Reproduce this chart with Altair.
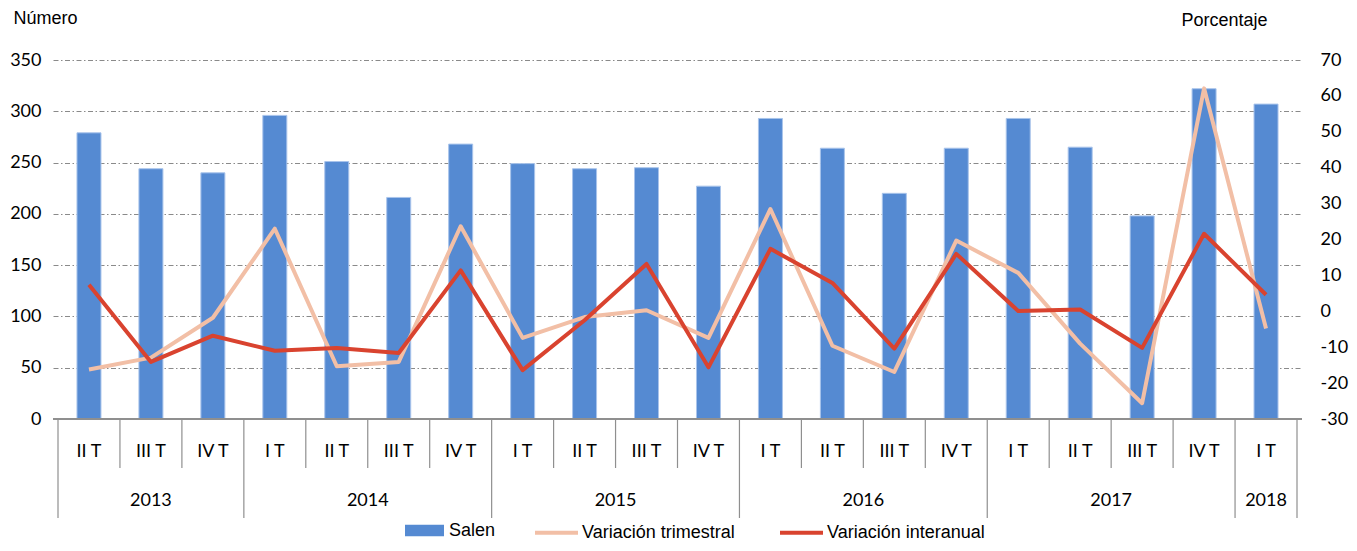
import altair as alt
import pandas as pd

# ---- data ----
quarters = ["II T", "III T", "IV T",
            "I T", "II T", "III T", "IV T",
            "I T", "II T", "III T", "IV T",
            "I T", "II T", "III T", "IV T",
            "I T", "II T", "III T", "IV T",
            "I T"]
years = ["2013"] * 3 + ["2014"] * 4 + ["2015"] * 4 + ["2016"] * 4 + ["2017"] * 4 + ["2018"]
salen = [279, 244, 240, 296, 251, 216, 268, 249, 244, 245, 227,
         293, 264, 220, 264, 293, 265, 198, 322, 307]
var_trim = [-16.2, -12.9, -1.8, 23.0, -15.3, -14.1, 23.7, -7.4, -1.6, 0.3, -7.4,
            28.5, -9.6, -16.9, 19.7, 10.7, -9.0, -25.6, 62.1, -4.8]
var_inter = [7.4, -14.1, -6.8, -11.0, -10.2, -11.6, 11.4, -16.4, -2.5, 13.2, -15.6,
             17.4, 7.9, -10.4, 16.0, 0.1, 0.5, -10.2, 21.6, 4.6]

LBL_BAR = "Salen"
LBL_TRIM = "Variación trimestral"
LBL_INTER = "Variación interanual"

BLUE = "#558AD2"
PEACH = "#F2BFA6"
RED = "#D9432F"
GRID = "#8a8a8a"
SEP = "#8f8f8f"

W, H = 1249, 359
n = len(quarters)

df = pd.DataFrame({
    "pos": [i + 0.5 for i in range(n)],
    "quarter": quarters,
    "year": years,
    "salen": salen,
    "serie_bar": LBL_BAR,
})

df_lines = pd.concat([
    pd.DataFrame({"pos": df["pos"], "value": var_trim, "serie": LBL_TRIM, "ord": 0}),
    pd.DataFrame({"pos": df["pos"], "value": var_inter, "serie": LBL_INTER, "ord": 1}),
], ignore_index=True)

# boundaries between categories
year_bounds = [0] + [i for i in range(1, n) if years[i] != years[i - 1]] + [n]
quarter_bounds = [i for i in range(1, n) if i not in year_bounds]
df_qsep = pd.DataFrame({"b": quarter_bounds})
df_ysep = pd.DataFrame({"b": year_bounds})
df_years = df.groupby("year", as_index=False)["pos"].mean()

xscale = alt.Scale(domain=[0, n], nice=False, zero=False)
X = alt.X("pos:Q", scale=xscale, axis=None)

left_axis = alt.Axis(
    values=list(range(0, 351, 50)), grid=True, gridColor=GRID,
    gridDash=[5, 2.5, 1.5, 2.5], gridWidth=1, labelPadding=12,
    labelFont="Lato", labelFontSize=18, labelColor="black",
    domain=False, ticks=False,
    title="Número", titleAngle=0, titleX=-40, titleY=-42,
    titleAlign="left", titleBaseline="middle", titleFont="Liberation Sans",
    titleFontSize=18, titleFontWeight="normal", titleColor="black",
)
right_axis = alt.Axis(
    orient="right", values=list(range(-30, 71, 10)), grid=False,
    labelPadding=18, labelAlign="left", labelExpr="'' + datum.value",
    labelFont="Lato", labelFontSize=18, labelColor="black",
    domain=False, ticks=False,
    title="Porcentaje", titleAngle=0, titleX=-121, titleY=-40,
    titleAlign="left", titleBaseline="middle", titleFont="Liberation Sans",
    titleFontSize=18, titleFontWeight="normal", titleColor="black",
)

bars = alt.Chart(df).mark_bar(size=24, stroke="#A9C4EB", strokeWidth=1).encode(
    x=X,
    y=alt.Y("salen:Q", scale=alt.Scale(domain=[0, 350], nice=False), axis=left_axis),
    fill=alt.Fill("serie_bar:N", scale=alt.Scale(domain=[LBL_BAR], range=[BLUE]),
                  legend=alt.Legend(orient="none", legendX=352, legendY=451,
                                    direction="horizontal", title=None,
                                    symbolType="M-1,-0.3H1V0.3H-1Z", symbolSize=1521,
                                    symbolStrokeWidth=0, labelFont="Liberation Sans",
                                    labelFontSize=18, labelOffset=5, labelColor="black",
                                    labelLimit=400)),
)

baseline = alt.Chart(df).mark_rule(color=SEP, strokeWidth=1.5).encode(
    x=alt.value(0), x2=alt.value(W), y=alt.value(H)
)
qsep = alt.Chart(df_qsep).mark_rule(color=SEP, strokeWidth=1.2).encode(
    x=alt.X("b:Q", scale=xscale, axis=None), y=alt.value(H), y2=alt.value(408)
)
ysep = alt.Chart(df_ysep).mark_rule(color=SEP, strokeWidth=1.2).encode(
    x=alt.X("b:Q", scale=xscale, axis=None), y=alt.value(H), y2=alt.value(458)
)
qlabels = alt.Chart(df).mark_text(font="Lato", fontSize=18, baseline="middle",
                                  align="center", color="black").encode(
    x=X, y=alt.value(392), text="quarter:N"
)
ylabels = alt.Chart(df_years).mark_text(font="Lato", fontSize=18, baseline="middle",
                                        align="center", color="black").encode(
    x=X, y=alt.value(441), text="year:N"
)

lines = alt.Chart(df_lines).mark_line(strokeWidth=4, strokeJoin="round").encode(
    x=X,
    y=alt.Y("value:Q", scale=alt.Scale(domain=[-30, 70], nice=False), axis=right_axis),
    stroke=alt.Stroke(
        "serie:N", scale=alt.Scale(domain=[LBL_TRIM, LBL_INTER], range=[PEACH, RED]),
        legend=alt.Legend(orient="none", legendX=480, legendY=449, direction="horizontal",
                          title=None, symbolType="stroke", symbolSize=1849,
                          symbolStrokeWidth=4, labelFont="Liberation Sans",
                          labelFontSize=18, labelOffset=2, columnPadding=37,
                          labelColor="black", labelLimit=400),
    ),
    detail="serie:N",
    order="ord:Q",
)

left = alt.layer(bars, baseline, qsep, ysep, qlabels, ylabels)

chart = alt.layer(left, lines).resolve_scale(y="independent").properties(
    width=W, height=H,
    autosize=alt.AutoSizeParams(type="none"),
    padding={"left": 45, "top": 52, "right": 47, "bottom": 124},
    background="white",
).configure_view(stroke=None)

chart.save("out.html", embed_options={"renderer": "svg", "actions": False})
